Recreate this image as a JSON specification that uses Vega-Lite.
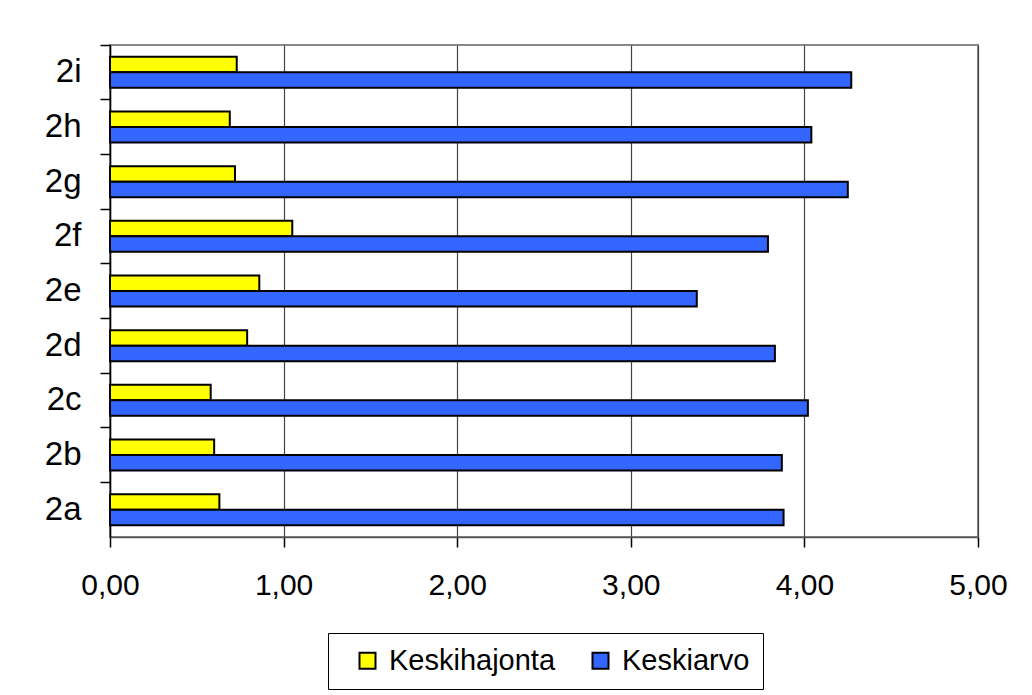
{
  "$schema": "https://vega.github.io/schema/vega-lite/v6.json",
  "autosize": "none",
  "width": 868,
  "height": 492,
  "padding": {"left": 110, "top": 45, "right": 54, "bottom": 158},
  "background": "white",
  "data": {
    "values": [
      {"kysymys": "2i", "sarja": "Keskihajonta", "arvo": 0.73},
      {"kysymys": "2i", "sarja": "Keskiarvo", "arvo": 4.27},
      {"kysymys": "2h", "sarja": "Keskihajonta", "arvo": 0.69},
      {"kysymys": "2h", "sarja": "Keskiarvo", "arvo": 4.04},
      {"kysymys": "2g", "sarja": "Keskihajonta", "arvo": 0.72},
      {"kysymys": "2g", "sarja": "Keskiarvo", "arvo": 4.25},
      {"kysymys": "2f", "sarja": "Keskihajonta", "arvo": 1.05},
      {"kysymys": "2f", "sarja": "Keskiarvo", "arvo": 3.79},
      {"kysymys": "2e", "sarja": "Keskihajonta", "arvo": 0.86},
      {"kysymys": "2e", "sarja": "Keskiarvo", "arvo": 3.38},
      {"kysymys": "2d", "sarja": "Keskihajonta", "arvo": 0.79},
      {"kysymys": "2d", "sarja": "Keskiarvo", "arvo": 3.83},
      {"kysymys": "2c", "sarja": "Keskihajonta", "arvo": 0.58},
      {"kysymys": "2c", "sarja": "Keskiarvo", "arvo": 4.02},
      {"kysymys": "2b", "sarja": "Keskihajonta", "arvo": 0.6},
      {"kysymys": "2b", "sarja": "Keskiarvo", "arvo": 3.87},
      {"kysymys": "2a", "sarja": "Keskihajonta", "arvo": 0.63},
      {"kysymys": "2a", "sarja": "Keskiarvo", "arvo": 3.88}
    ]
  },
  "mark": {"type": "bar", "stroke": "black", "strokeWidth": 2},
  "encoding": {
    "y": {
      "field": "kysymys",
      "type": "nominal",
      "sort": ["2i", "2h", "2g", "2f", "2e", "2d", "2c", "2b", "2a"],
      "scale": {"paddingInner": 0, "paddingOuter": 0},
      "axis": {
        "title": null,
        "bandPosition": 0,
        "domainColor": "black",
        "domainWidth": 1.5,
        "tickColor": "black",
        "tickSize": 10,
        "tickWidth": 1.5,
        "labelPadding": 19,
        "labelFont": "Liberation Sans",
        "labelFontSize": 33,
        "labelColor": "black",
        "grid": false
      }
    },
    "yOffset": {
      "field": "sarja",
      "type": "nominal",
      "sort": ["Keskihajonta", "Keskiarvo"],
      "scale": {"paddingInner": 0, "paddingOuter": 0.76}
    },
    "x": {
      "field": "arvo",
      "type": "quantitative",
      "scale": {"domain": [0, 5], "nice": false},
      "axis": {
        "title": null,
        "values": [0, 1, 2, 3, 4, 5],
        "labelExpr": "replace(format(datum.value, '.2f'), '.', ',')",
        "labelFlush": false,
        "domainColor": "#555555",
        "domainWidth": 1.5,
        "tickColor": "black",
        "tickSize": 10,
        "tickWidth": 1.5,
        "labelPadding": 23,
        "labelFont": "Liberation Sans",
        "labelFontSize": 30,
        "labelColor": "black",
        "grid": true,
        "gridColor": "#444444",
        "gridWidth": 1.2
      }
    },
    "color": {
      "field": "sarja",
      "type": "nominal",
      "scale": {"domain": ["Keskihajonta", "Keskiarvo"], "range": ["#FFFF00", "#3366FF"]},
      "legend": {
        "title": null,
        "orient": "none",
        "legendX": 218,
        "legendY": 588,
        "direction": "horizontal",
        "columns": 2,
        "columnPadding": 18,
        "padding": 13,
        "symbolOffset": 12,
        "symbolType": "square",
        "symbolSize": 256,
        "symbolStrokeColor": "black",
        "symbolStrokeWidth": 2,
        "labelFont": "Liberation Sans",
        "labelFontSize": 29,
        "labelLimit": 400,
        "labelColor": "black",
        "labelOffset": 7,
        "strokeColor": "black",
        "fillColor": "white"
      }
    }
  },
  "config": {
    "view": {"stroke": "#888888", "strokeWidth": 2}
  }
}
